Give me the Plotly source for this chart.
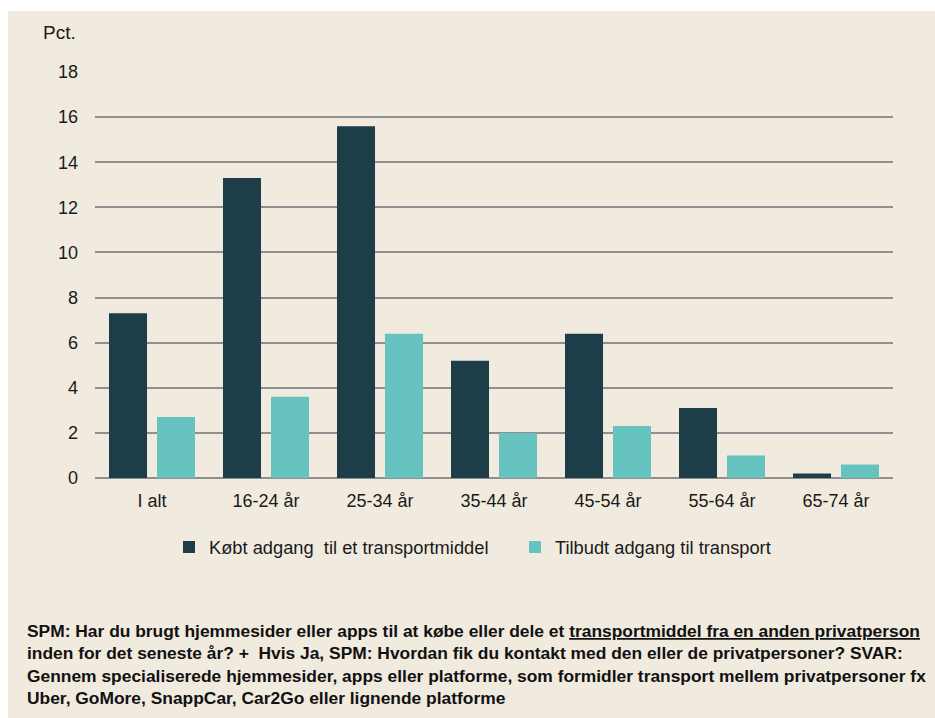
import plotly.graph_objects as go

categories = ["I alt", "16-24 år", "25-34 år", "35-44 år", "45-54 år", "55-64 år", "65-74 år"]
koebt = [7.3, 13.3, 15.6, 5.2, 6.4, 3.1, 0.2]
tilbudt = [2.7, 3.6, 6.4, 2.0, 2.3, 1.0, 0.6]
series_names = ["Købt adgang  til et transportmiddel", "Tilbudt adgang til transport"]
y_ticks = [0, 2, 4, 6, 8, 10, 12, 14, 16, 18]

footnote_lines = [
    "<b>SPM: Har du brugt hjemmesider eller apps til at købe eller dele et <u>transportmiddel fra en anden privatperson</u></b>",
    "<b>inden for det seneste år? +  Hvis Ja, SPM: Hvordan fik du kontakt med den eller de privatpersoner? SVAR:</b>",
    "<b>Gennem specialiserede hjemmesider, apps eller platforme, som formidler transport mellem privatpersoner fx</b>",
    "<b>Uber, GoMore, SnappCar, Car2Go eller lignende platforme</b>",
]

BG = "#f0eadf"
DARK = "#1d3e48"
TEAL = "#67c3c0"
GRID = "#8f8f8f"
FONT = "Liberation Sans, Arial, sans-serif"

OFF = 0  # body margin removed via post_script
W, H = 935, 718
L, R, T, B = 95, 935 - 893, 72, 718 - 478
PW = W - L - R
PH = H - T - B

def px(x):  # screen x -> paper
    return (x - OFF - L) / PW

def py(y):  # screen y -> paper
    return (H - B - (y - OFF)) / PH

fig = go.Figure()
fig.add_trace(go.Bar(x=categories, y=koebt, name=series_names[0], marker=dict(color=DARK, line=dict(width=0))))
fig.add_trace(go.Bar(x=categories, y=tilbudt, name=series_names[1], marker=dict(color=TEAL, line=dict(width=0))))

fig.add_shape(type="rect", xref="paper", yref="paper", x0=px(8), x1=px(960), y0=py(740), y1=py(11),
              fillcolor=BG, line=dict(width=0), layer="below")

fig.add_annotation(text="Pct.", xref="paper", yref="paper", x=px(41), y=py(33), xanchor="left", yanchor="middle",
                   showarrow=False, font=dict(family=FONT, size=19, color="#1a1a1a"))

for line, yy in zip(footnote_lines, [631, 653, 676, 698]):
    fig.add_annotation(text=line, xref="paper", yref="paper", x=px(25), y=py(yy), xanchor="left", yanchor="middle",
                       showarrow=False, font=dict(family=FONT, size=17.4, color="#111111"))

fig.update_layout(
    width=W, height=H,
    margin=dict(l=L, r=R, t=T, b=B, pad=0),
    paper_bgcolor="white",
    plot_bgcolor="rgba(0,0,0,0)",
    font=dict(family=FONT, size=18, color="#1a1a1a"),
    barmode="group",
    bargap=0.158,
    bargroupgap=0.208,
    showlegend=True,
    hovermode=False,
    legend=dict(orientation="h", x=px(169), xanchor="left", y=py(547), yanchor="middle",
                bgcolor="rgba(0,0,0,0)", font=dict(family=FONT, size=18.3, color="#1a1a1a"),
                entrywidth=301, entrywidthmode="pixels", itemclick=False),
)
fig.update_xaxes(showgrid=False, showline=False, zeroline=False, ticks="", ticklabelstandoff=10,
                 tickfont=dict(family=FONT, size=18, color="#1a1a1a"))
fig.update_yaxes(range=[0, 18], tickvals=y_ticks, showgrid=True, gridcolor=GRID, gridwidth=2,
                 zeroline=True, zerolinecolor=GRID, zerolinewidth=2, showline=False, ticks="",
                 ticklabelstandoff=16, tickfont=dict(family=FONT, size=18, color="#1a1a1a"))

fig.write_html("out.html", config={"displayModeBar": False},
               post_script="document.body.style.margin='0';document.body.style.overflow='hidden';")
